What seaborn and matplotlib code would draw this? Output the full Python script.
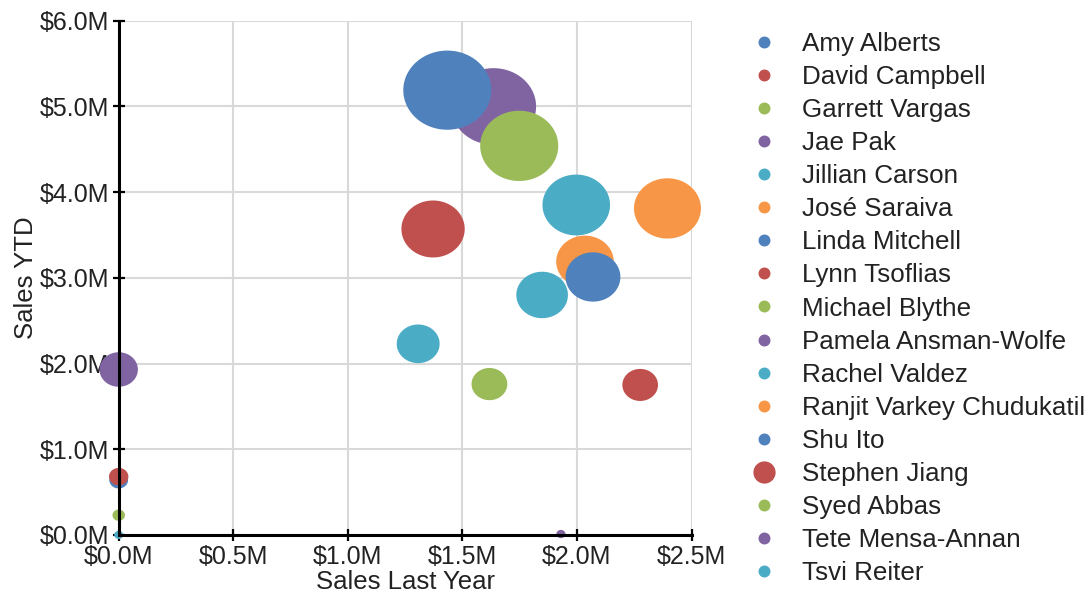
import matplotlib
matplotlib.use('Agg')
import matplotlib.pyplot as plt
from matplotlib.path import Path
from matplotlib.lines import Line2D
from matplotlib.ticker import FuncFormatter, MultipleLocator
import numpy as np
import pandas as pd
import seaborn as sns

# Sales people (legend order); last entry is the small unlabeled cyan point at the origin
names = ['Amy Alberts', 'David Campbell', 'Garrett Vargas', 'Jae Pak', 'Jillian Carson',
         'José Saraiva', 'Linda Mitchell', 'Lynn Tsoflias', 'Michael Blythe',
         'Pamela Ansman-Wolfe', 'Rachel Valdez', 'Ranjit Varkey Chudukatil', 'Shu Ito',
         'Stephen Jiang', 'Syed Abbas', 'Tete Mensa-Annan', 'Tsvi Reiter', 'Tsvi Reiter']
sales_last_year = [0.0, 1.372, 1.618, 1.636, 1.997, 2.035, 1.434, 2.276, 1.748,
                   1.93, 1.307, 2.395, 2.07, 0.0, 0.0, 0.0, 1.848, 0.0]
sales_ytd = [0.64, 3.57, 1.76, 5.0, 3.85, 3.19, 5.19, 1.75, 4.54,
             0.01, 2.23, 3.81, 3.01, 0.68, 0.23, 1.93, 2.80, 0.0]

legend_names = names[:17]
office_colors = ['#4f81bd', '#c0504d', '#9bbb59', '#8064a2', '#4bacc6', '#f79646']
palette = {n: office_colors[i % 6] for i, n in enumerate(legend_names)}

df = pd.DataFrame({'name': names,
                   'last_year': np.array(sales_last_year) * 1e6,
                   'ytd': np.array(sales_ytd) * 1e6})

# bubble diameter grows linearly with Sales YTD (9px .. 88px)
d_px = 9 + 79 * df['ytd'] / df['ytd'].max()
df['area'] = (d_px * 0.72) ** 2

# slightly wide ellipse marker, like the reference bubbles
t = np.linspace(0, 2 * np.pi, 80)
ellipse = Path(np.column_stack([np.cos(t), 0.9 * np.sin(t)]), closed=True)

sns.set_style('white')
plt.rcParams['font.family'] = ['Liberation Sans', 'DejaVu Sans']

fig, ax = plt.subplots(figsize=(10.89, 5.93), dpi=100)
fig.subplots_adjust(left=0.109, right=0.635, top=0.965, bottom=0.098)

sns.scatterplot(data=df, x='last_year', y='ytd', hue='name', palette=palette,
                s=df['area'].values, marker=ellipse, linewidth=0, alpha=1,
                legend=False, clip_on=False, zorder=2, ax=ax)

ax.set_xlim(0, 2.5e6)
ax.set_ylim(0, 6e6)
ax.xaxis.set_major_locator(MultipleLocator(0.5e6))
ax.yaxis.set_major_locator(MultipleLocator(1e6))
fmt = FuncFormatter(lambda v, p: f'${v / 1e6:.1f}M')
ax.xaxis.set_major_formatter(fmt)
ax.yaxis.set_major_formatter(fmt)

ax.set_axisbelow(True)
ax.grid(True, color='#d9d9d9', linewidth=1.5)
for side in ['top', 'right']:
    ax.spines[side].set_visible(False)
for side in ['left', 'bottom']:
    ax.spines[side].set_color('black')
    ax.spines[side].set_linewidth(2.2)
    ax.spines[side].set_zorder(5)
ax.tick_params(bottom=True, left=True, direction='inout', length=9, width=1.6,
               color='black', labelsize=18, labelcolor='#222222', pad=2.5)

ax.set_xlabel('Sales Last Year', fontsize=18.5, color='#222222', labelpad=1)
ax.set_ylabel('Sales YTD', fontsize=18.5, color='#222222', labelpad=1)

handles = []
for n in legend_names:
    ms = 16 if n == 'Stephen Jiang' else 8.6
    handles.append(Line2D([], [], marker='o', linestyle='', markersize=ms,
                          markerfacecolor=palette[n], markeredgewidth=0))
fig.legend(handles, legend_names, loc='upper left', bbox_to_anchor=(0.6896, 0.946),
           bbox_transform=fig.transFigure, frameon=False, fontsize=18.7,
           labelspacing=0.349, handlelength=1.0, handletextpad=0.96, borderpad=0,
           borderaxespad=0, labelcolor='#222222')

fig.savefig('out.png', dpi=100)
